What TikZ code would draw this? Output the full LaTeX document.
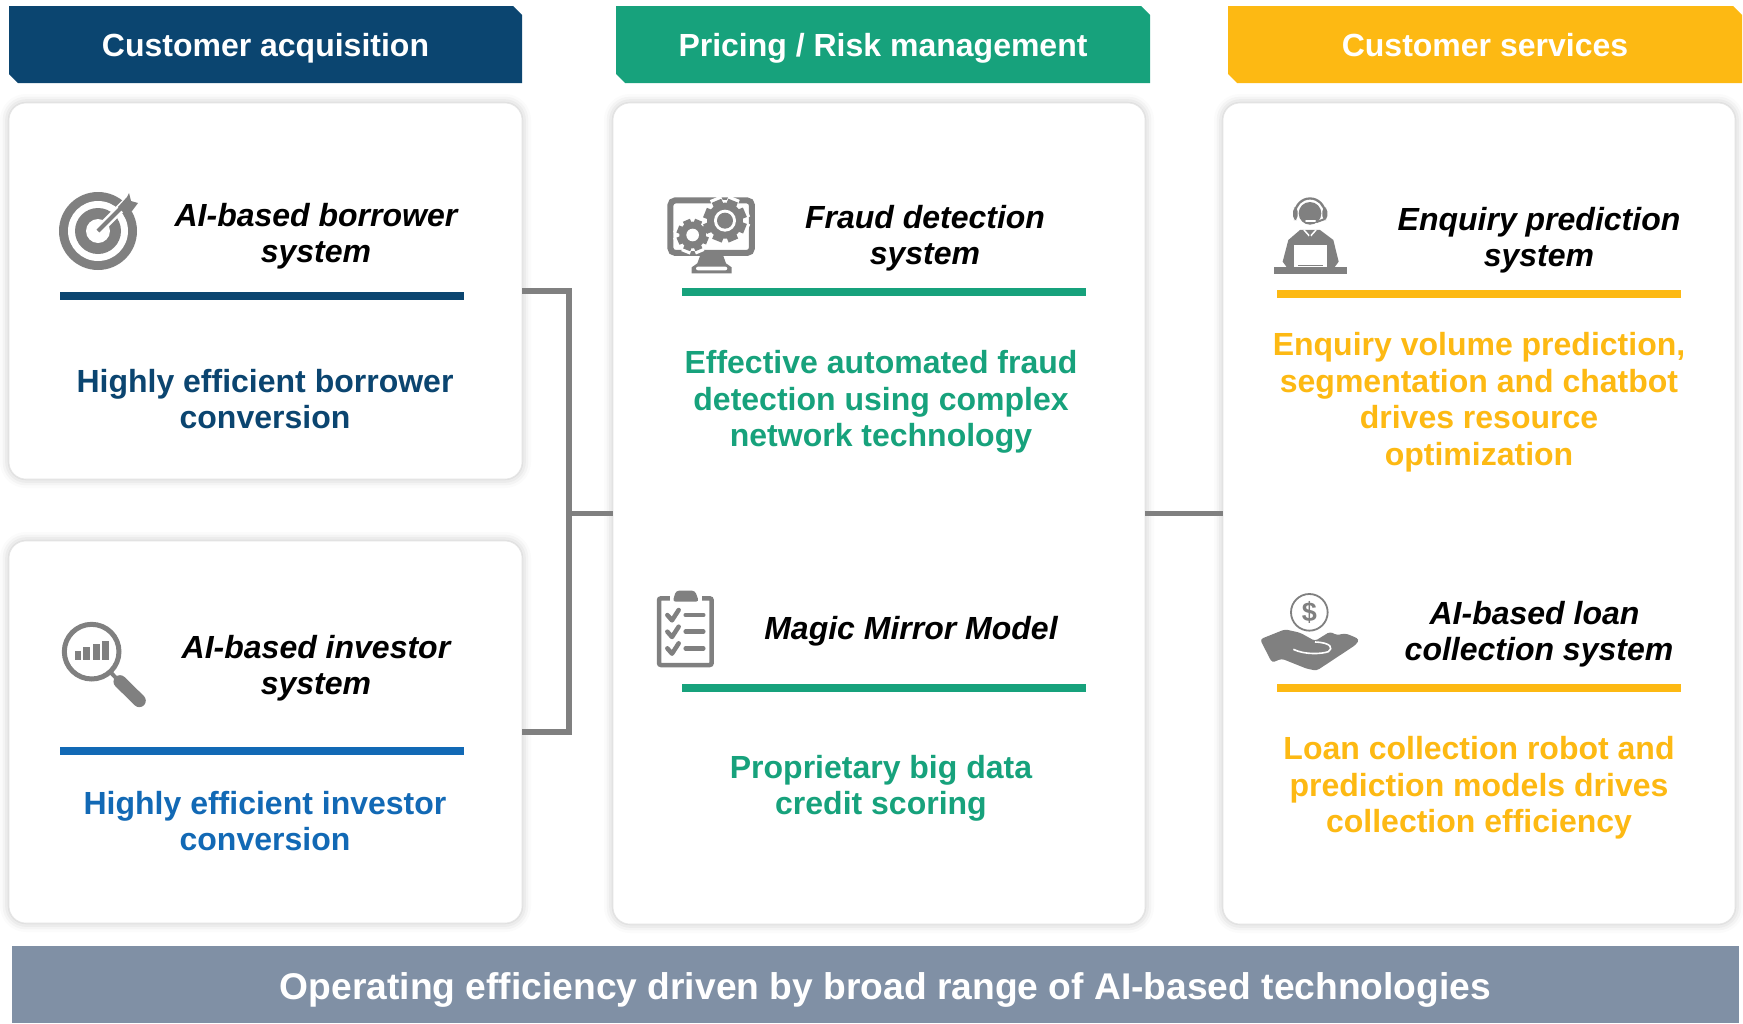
\documentclass[tikz,border=0pt]{standalone}
\usepackage{fontspec}
\setmainfont{Liberation Sans}
\usetikzlibrary{shapes.misc,shadows.blur}
\definecolor{navy}{HTML}{0B4570}
\definecolor{teal}{HTML}{17A27C}
\definecolor{amber}{HTML}{FDB913}
\definecolor{blue}{HTML}{1269B5}
\definecolor{slate}{HTML}{8090A5}
\definecolor{icongray}{HTML}{808080}
\newcommand{\gearicon}[4]{%
  \fill[#4] (#1,#2) circle (#3);
  \foreach \a in {0,45,...,315}
    \draw[#4,line width=#3*0.19pt] (#1,#2) -- ++(\a+22:#3*1.2);
}
\tikzset{
  head box/.style={chamfered rectangle,chamfered rectangle corners={north east,south west},chamfered rectangle xsep=4.5pt,chamfered rectangle ysep=4.5pt,draw=none,fill=#1,text=white,minimum height=77pt,inner sep=0pt,outer sep=0pt,text height=30pt,text depth=7pt,font=\fontsize{32}{36}\selectfont\bfseries},
  card box/.style={rectangle,rounded corners=17pt,fill=white,draw=black!10,line width=0.6pt,inner sep=0pt,outer sep=0pt,blur shadow={shadow xshift=0pt,shadow yshift=0pt,shadow blur radius=9pt,shadow opacity=24}},
  title text/.style={align=center,font=\fontsize{32}{36.5}\selectfont\bfseries\itshape},
  desc text/.style={align=center,text=#1,font=\fontsize{32}{36.5}\selectfont\bfseries},
  rule bar/.style={rectangle,fill=#1,minimum width=404pt,minimum height=8pt,inner sep=0pt,outer sep=0pt},
  link line/.style={draw=icongray,line width=5.5pt,line join=miter},
}
\begin{document}
\begin{tikzpicture}[x=1pt,y=-1pt]
\useasboundingbox (0,0) rectangle (1743,1023);
\begin{scope}
\node[head box=navy,minimum width=513pt] (headc) at (265.5,44.5) {Customer acquisition};
\node[head box=teal,minimum width=534pt] (headp) at (883,44.5) {Pricing / Risk management};
\node[head box=amber,minimum width=514pt] (heads) at (1485,44.5) {Customer services};
\node[card box,minimum width=513pt,minimum height=376pt] (cardb) at (265.5,291) {};
\node[card box,minimum width=513pt,minimum height=382pt] (cardi) at (265.5,732) {};
\node[card box,minimum width=532pt,minimum height=821pt] (cardf) at (879,513.5) {};
\node[card box,minimum width=512pt,minimum height=821pt] (cardt) at (1479,513.5) {};
\node[rectangle,fill=slate,text=white,minimum width=1727pt,minimum height=77pt,inner sep=0pt,text height=35pt,text depth=6pt,font=\fontsize{37.2}{40}\selectfont\bfseries] (bottom) at (875.5,984.5) {\hspace*{20pt}Operating efficiency driven by broad range of AI-based technologies};
\coordinate (bus) at (569,513.5);
\end{scope}
\begin{scope}
\draw[link line] (cardb.east) -| (bus) |- (cardi.east);
\draw[link line] (bus) -- (cardf.west);
\draw[link line] (cardf.east) -- (cardt.west);
\end{scope}
\begin{scope}
\node[title text] (tb) at (316,236) {AI-based borrower\\system};
\node[rule bar=navy] (rb) at (261.5,295.5) {};
\node[desc text=navy] (db) at (265,399) {Highly efficient borrower\\conversion};
\node[title text] (ti) at (316,668) {AI-based investor\\system};
\node[rule bar=blue] (ri) at (261.5,750.5) {};
\node[desc text=blue] (di) at (265,821) {Highly efficient investor\\conversion};
\node[title text] (tf) at (925,238) {Fraud detection\\system};
\node[rule bar=teal] (rf) at (884,292) {};
\node[desc text=teal] (df) at (881,402) {Effective automated fraud\\detection using complex\\network technology};
\node[title text] (tm) at (911,631) {Magic Mirror Model};
\node[rule bar=teal] (rm) at (884,687.5) {};
\node[desc text=teal] (dm) at (881,788.5) {Proprietary big data\\credit scoring};
\node[title text] (te) at (1539,240) {Enquiry prediction\\system};
\node[rule bar=amber] (re) at (1479,294) {};
\node[desc text=amber] (de) at (1479,402) {Enquiry volume prediction,\\segmentation and chatbot\\drives resource\\optimization};
\node[title text] (tl) at (1539,634) {AI-based loan\hspace*{9pt}\\collection system};
\node[rule bar=amber] (rl) at (1479,688) {};
\node[desc text=amber] (dl) at (1479,788) {Loan collection robot and\\prediction models drives\\collection efficiency};
\end{scope}
% target
\begin{scope}[shift={(98,231)}]
\fill[icongray] (0,0) circle (39);
\fill[white] (0,0) circle (30);
\fill[icongray] (0,0) circle (23);
\fill[white] (0,0) circle (12);
\draw[white,line width=9pt] (0,0) -- (30,-30);
\draw[icongray,line width=4pt] (0,0) -- (28,-28);
\fill[icongray] (20,-24) -- (29,-34) -- (31,-38) -- (33,-30) -- (40,-28) -- (34,-20) -- (26,-18) -- cycle;
\end{scope}
% magnifier
\begin{scope}[shift={(0,600)},scale=0.3333]
\draw[icongray,line width=5pt] (275,155) circle (82);
\fill[icongray] (225,152) rectangle (243,180);
\fill[icongray] (248,140) rectangle (270,180);
\fill[icongray] (279,132) rectangle (301,180);
\fill[icongray] (306,122) rectangle (328,180);
\draw[icongray,line width=4pt] (330,215) -- (352,238);
\draw[icongray,line width=13pt,line cap=round] (360,245) -- (418,302);
\end{scope}
% monitor and gears
\begin{scope}[shift={(640,180)},scale=0.3333]
\draw[icongray,line width=6pt,rounded corners=5pt] (91,61) rectangle (336,219);
\fill[icongray] (180,228) -- (250,228) -- (258,250) -- (275,262) -- (275,280) -- (155,280) -- (155,262) -- (172,250) -- cycle;
\fill[white,rounded corners=2pt] (168,260) rectangle (262,271);
\gearicon{255}{122}{62}{white}
\gearicon{158}{165}{48}{white}
\gearicon{255}{122}{54}{icongray}
\gearicon{158}{165}{40}{icongray}
\fill[white] (255,122) circle (33);
\fill[icongray] (255,122) circle (24);
\fill[white] (158,165) circle (19);
\end{scope}
% clipboard
\begin{scope}[shift={(640,580)},scale=0.3333]
\draw[icongray,line width=4.5pt,rounded corners=2pt] (57,55) rectangle (215,255);
\fill[white] (90,40) rectangle (185,70);
\fill[icongray,rounded corners=3pt] (98,65) -- (108,32) -- (165,32) -- (177,65) -- cycle;
\foreach \y in {105,155,205} {
\draw[icongray,line width=4.5pt,line cap=round,line join=round] (82,\y) -- (96,\y+16) -- (116,\y-15);
\draw[icongray,line width=4.5pt,line cap=round] (137,\y) -- (190,\y);
}
\end{scope}
% agent
\begin{scope}[shift={(1250,180)},scale=0.3333]
\begin{scope}
\clip (120,40) rectangle (240,100);
\fill[icongray] (180,100) circle (48);
\fill[white] (180,100) circle (41);
\end{scope}
\fill[icongray] (180,100) circle (34);
\fill[icongray,rounded corners=4pt] (129,82) rectangle (143,120);
\fill[icongray,rounded corners=4pt] (217,82) rectangle (232,120);
\draw[icongray,line width=2pt,line cap=round] (222,118) -- (200,126);
\draw[white,line width=2pt,line cap=round] (168,124) -- (195,124);
\fill[icongray] (150,150) -- (210,150) -- (250,180) -- (266,245) -- (252,264) -- (112,264) -- (98,245) -- (115,180) -- cycle;
\draw[white,line width=1.5pt] (162,150) -- (180,170) -- (198,150);
\fill[icongray] (180,158) -- (188,195) -- (172,195) -- cycle;
\fill[white] (133,195) rectangle (232,262);
\draw[icongray,line width=1.5pt] (145,256) -- (220,256);
\fill[icongray] (73,262) rectangle (290,283);
\end{scope}
% hand and coin
\begin{scope}[shift={(1250,580)},scale=0.3333]
\draw[icongray,line width=1.8pt] (178,97) circle (55);
\node[text=icongray,font=\fontsize{27}{27}\selectfont\bfseries] (coin) at (178,97) {\$};
\fill[icongray,rounded corners=3pt] (30,178) -- (105,148) -- (150,158) -- (195,183) -- (240,155) -- (262,166) -- (282,160) -- (300,165) -- (328,178) -- (318,194) -- (200,272) -- (170,266) -- (95,236) -- (66,248) -- cycle;
\draw[white,line width=1.6pt] (130,208) .. controls (165,225) and (215,222) .. (235,215) .. controls (250,205) and (245,188) .. (195,186);
\end{scope}
\end{tikzpicture}
\end{document}
